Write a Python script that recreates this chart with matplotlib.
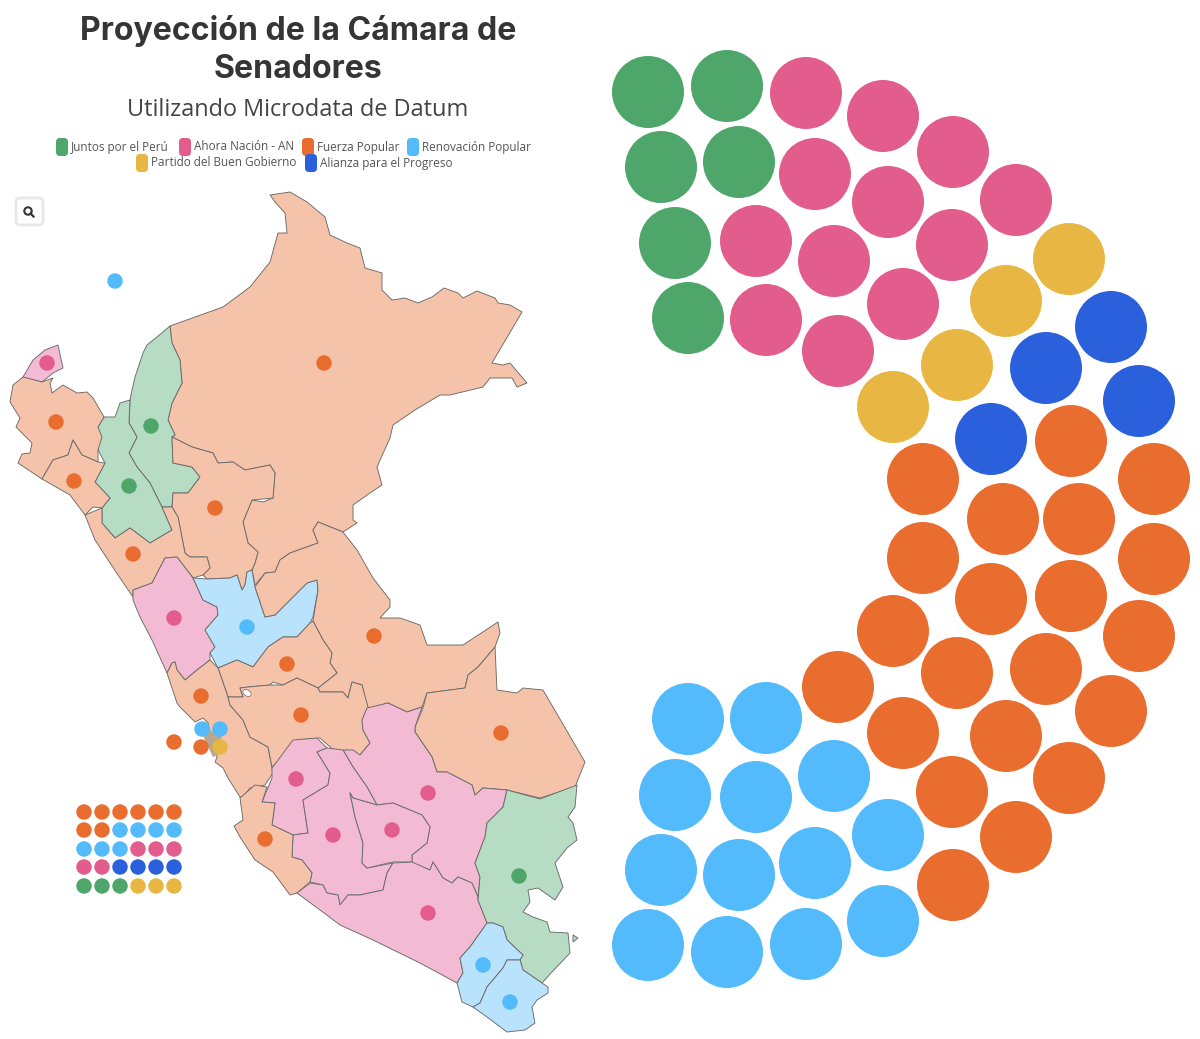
import matplotlib
matplotlib.use("Agg")
import matplotlib.pyplot as plt
from matplotlib.patches import Circle, Ellipse, Polygon, FancyBboxPatch

GREEN = "#4FA66B"
PINK = "#E25C8C"
ORANGE = "#E96D2F"
SKY = "#53BBFB"
YELLOW = "#E8B743"
ROYAL = "#2B60DC"

# lighter fill of each party on the map
TINT = {GREEN: "#B6DCC3", PINK: "#F2BAD3", ORANGE: "#F5C3A9", SKY: "#B9E2FD"}

title_lines = ["Proyección de la Cámara de", "Senadores"]
subtitle = "Utilizando Microdata de Datum"

legend_labels = ["Juntos por el Perú", "Ahora Nación - AN", "Fuerza Popular", "Renovación Popular",
                 "Partido del Buen Gobierno", "Alianza para el Progreso"]
legend_colors = [GREEN, PINK, ORANGE, SKY, YELLOW, ROYAL]
legend_swatch_x = [62, 185, 308, 413, 142, 311]
legend_row_y = [147, 147, 147, 147, 163, 163]

# seats of the hemicycle, per party
seats_green = [(648, 92), (727, 86), (661, 167), (739, 162), (675, 243), (688, 318)]
seats_pink = [(806, 93), (883, 116), (953, 152), (1016, 200), (815, 174), (888, 202),
              (952, 245), (756, 241), (834, 261), (903, 304), (766, 320), (838, 351)]
seats_yellow = [(1069, 259), (1006, 301), (957, 365), (893, 407)]
seats_royal = [(1111, 327), (1046, 368), (1139, 401), (991, 439)]
seats_orange = [(1071, 441), (1154, 479), (923, 479), (1003, 519), (1079, 519), (1154, 559),
                (923, 558), (991, 599), (1071, 596), (1139, 636), (893, 631), (957, 673),
                (1046, 669), (1111, 711), (838, 687), (903, 733), (1006, 736), (1069, 778),
                (952, 792), (1016, 837), (953, 885)]
seats_sky = [(688, 719), (766, 718), (675, 795), (756, 797), (834, 776), (888, 835), (815, 863),
             (739, 875), (661, 870), (648, 945), (727, 952), (806, 944), (883, 921)]

# department outlines
tumbes = [(23, 377), (33, 360), (45, 350), (58, 345), (63, 368), (53, 373), (42, 382), (25, 378)]
piura = [(23, 377), (13, 385), (10, 402), (20, 418), (16, 427), (32, 443), (30, 453), (22, 454), (18, 463),
         (42, 479), (53, 460), (68, 455), (73, 440), (82, 455), (98, 462), (98, 450), (102, 437), (98, 427),
         (104, 417), (93, 398), (87, 392), (77, 393), (63, 385), (52, 393), (50, 383), (53, 378), (42, 382)]
lambayeque = [(42, 479), (53, 460), (68, 455), (73, 440), (82, 455), (98, 462), (105, 463), (95, 482),
              (110, 498), (102, 508), (93, 507), (85, 515), (70, 495)]
cajamarca = [(104, 417), (115, 417), (120, 403), (130, 400), (129, 423), (137, 437), (129, 453), (137, 467),
             (150, 483), (162, 507), (172, 530), (150, 543), (130, 528), (115, 538), (102, 523), (102, 508),
             (110, 498), (95, 482), (105, 463), (98, 450), (98, 427)]
amazonas = [(170, 326), (157, 337), (147, 345), (143, 353), (135, 377), (132, 390), (130, 400), (129, 423),
            (137, 437), (129, 453), (137, 467), (150, 483), (162, 507), (172, 507), (173, 493), (188, 493),
            (200, 477), (192, 467), (173, 463), (172, 437), (175, 435), (168, 420), (172, 403), (182, 383),
            (180, 360), (172, 343)]
loreto = [(270, 195), (290, 192), (307, 202), (325, 217), (330, 235), (347, 243), (360, 248), (365, 268),
          (382, 273), (382, 290), (392, 300), (405, 298), (418, 303), (432, 297), (444, 288), (458, 293),
          (463, 298), (477, 291), (495, 298), (498, 303), (510, 305), (522, 312), (492, 363), (503, 365),
          (510, 363), (527, 383), (517, 387), (512, 378), (490, 378), (483, 387), (450, 395), (440, 395),
          (415, 410), (393, 425), (390, 438),
          (377, 467), (382, 485), (370, 493), (353, 505), (353, 520), (357, 523), (343, 532), (318, 522),
          (313, 530), (318, 543), (290, 553), (280, 560), (275, 572), (265, 573), (255, 585), (252, 570),
          (255, 563), (258, 552), (248, 543), (243, 522), (252, 500), (263, 502), (273, 498), (275, 473),
          (270, 465), (245, 470), (233, 462), (218, 463), (213, 453), (192, 447), (172, 437), (175, 435),
          (168, 420), (172, 403), (182, 383), (180, 360), (172, 343), (170, 326), (223, 307), (250, 287),
          (270, 262), (278, 233), (287, 233), (285, 213), (275, 202)]
san_martin = [(172, 437), (192, 447), (213, 453), (218, 463), (233, 462), (245, 470), (270, 465), (275, 473),
              (273, 498), (252, 500), (243, 522), (248, 543), (258, 552), (255, 563), (252, 570), (247, 572),
              (245, 585), (242, 590), (237, 575), (230, 578), (207, 579), (203, 575), (210, 568), (207, 557),
              (190, 557), (185, 553), (178, 517), (172, 507), (173, 493), (188, 493), (200, 477), (192, 467),
              (173, 463)]
la_libertad = [(85, 515), (95, 540), (118, 575), (133, 597), (133, 590), (152, 583), (165, 558), (177, 557),
               (193, 578), (203, 575), (210, 568), (207, 557), (190, 557), (185, 553), (178, 517), (172, 507),
               (162, 507), (172, 530), (150, 543), (130, 528), (115, 538), (102, 523), (102, 508)]
ancash = [(133, 590), (152, 583), (165, 558), (177, 557), (193, 578), (203, 600), (217, 607), (218, 615),
          (205, 630), (215, 647), (210, 653), (210, 660), (197, 670), (185, 680), (177, 670), (175, 662),
          (172, 663), (167, 673), (152, 640), (140, 617), (133, 600)]
huanuco = [(193, 578), (207, 579), (230, 578), (237, 575), (242, 590), (245, 585), (247, 572), (252, 570),
           (255, 587), (265, 617), (275, 615), (290, 600), (307, 583), (317, 580), (318, 590), (313, 617),
           (310, 623), (297, 637), (283, 637), (268, 647), (253, 667), (237, 660), (218, 668), (210, 653),
           (215, 647), (205, 630), (218, 615), (217, 607), (203, 600)]
lima = [(167, 673), (177, 703), (180, 707), (195, 722), (203, 718), (208, 723), (212, 740), (217, 757),
        (215, 762), (223, 768), (228, 778), (240, 797), (243, 797), (250, 788), (265, 785), (273, 773),
        (268, 747), (250, 737), (243, 720), (230, 705), (228, 697), (218, 668), (210, 660), (197, 670),
        (185, 680), (177, 670), (175, 662), (172, 663)]
lima_city = [(203, 735), (208, 727), (212, 732), (218, 727), (222, 733), (218, 755), (213, 757), (205, 740)]
pasco = [(218, 668), (237, 660), (253, 667), (268, 647), (283, 637), (297, 637), (310, 623), (313, 621),
         (323, 640), (332, 653), (330, 663), (337, 673), (318, 688), (297, 678), (283, 685), (273, 682),
         (270, 685), (248, 687), (240, 688), (243, 697), (228, 697)]
junin = [(228, 697), (243, 697), (240, 688), (248, 687), (270, 685), (283, 685), (297, 678), (318, 688),
         (320, 692), (343, 692), (348, 698), (352, 682), (362, 685), (368, 707), (362, 720), (363, 730),
         (370, 743), (360, 755), (347, 750), (337, 753), (320, 738), (297, 740), (293, 748), (272, 767),
         (268, 747), (250, 737), (243, 720), (230, 705)]
ucayali = [(357, 550), (373, 578), (390, 600), (390, 607), (380, 618), (400, 618), (420, 625), (427, 645),
           (463, 645), (498, 622), (500, 633), (495, 647), (478, 667), (468, 675), (465, 688), (427, 693),
           (422, 707), (407, 712), (388, 703), (370, 708), (367, 707), (362, 685), (352, 682), (348, 698),
           (343, 692), (320, 692), (318, 688), (337, 673), (330, 663), (332, 653), (323, 640), (313, 621),
           (318, 590), (317, 580), (307, 583), (290, 600), (275, 615), (265, 617), (255, 587), (265, 573),
           (275, 572), (280, 560), (290, 553), (318, 543), (313, 530), (318, 522), (343, 532)]
madre_de_dios = [(427, 693), (465, 688), (468, 675), (478, 667), (495, 647), (497, 690), (517, 693), (523, 688),
                 (543, 690), (585, 762), (575, 787), (540, 798), (507, 790), (483, 788), (475, 795), (472, 785),
                 (447, 772), (437, 772), (432, 757), (415, 732), (415, 727), (423, 708)]
cusco = [(367, 708), (388, 703), (407, 712), (422, 707), (415, 727), (415, 732), (432, 757), (437, 772),
         (447, 772), (472, 785), (475, 795), (483, 788), (507, 790), (503, 807), (487, 823), (485, 837),
         (475, 863), (480, 877), (478, 897), (472, 883), (458, 877), (452, 883), (443, 878), (433, 862),
         (430, 870), (412, 863), (412, 855), (427, 843), (430, 827), (422, 815), (393, 803), (377, 805),
         (367, 787), (353, 767), (343, 750), (353, 750), (360, 755), (370, 743), (363, 730), (362, 720)]
apurimac = [(350, 793), (353, 798), (377, 805), (393, 803), (422, 815), (430, 827), (427, 843), (412, 855),
            (412, 862), (393, 862), (367, 868), (362, 863), (363, 843), (355, 817)]
ayacucho = [(317, 752), (327, 748), (343, 750), (353, 767), (367, 787), (377, 805), (353, 798), (350, 793),
            (355, 817), (363, 843), (362, 863), (367, 868), (393, 863), (387, 873), (383, 890), (360, 895),
            (348, 895), (340, 905), (338, 895), (327, 893), (323, 885), (310, 882), (312, 873), (302, 860),
            (292, 857), (293, 835), (308, 833), (303, 800), (328, 785), (330, 773)]
huancavelica = [(262, 802), (272, 778), (272, 768), (293, 740), (317, 738), (327, 748), (317, 752), (330, 773),
                (328, 785), (303, 800), (308, 833), (293, 835), (272, 825), (275, 803)]
ica = [(240, 798), (255, 785), (267, 787), (262, 802), (275, 803), (272, 825), (293, 835), (292, 857),
       (302, 860), (312, 873), (310, 882), (297, 893), (290, 895), (273, 872), (255, 860), (240, 837),
       (234, 826), (243, 820)]
arequipa = [(297, 893), (310, 883), (323, 885), (327, 893), (338, 895), (340, 905), (348, 895), (360, 895),
            (383, 890), (387, 873), (393, 863), (412, 862), (430, 870), (433, 862), (443, 878), (452, 883),
            (458, 877), (472, 883), (478, 897), (478, 900), (487, 923), (470, 947), (460, 958), (463, 973),
            (457, 983), (420, 963), (373, 940), (340, 925), (320, 910)]
puno = [(507, 790), (540, 799), (577, 785), (575, 807), (568, 817), (573, 823), (577, 840), (567, 848),
        (555, 863), (563, 887), (555, 900), (538, 888), (528, 890), (530, 902), (523, 912), (533, 917),
        (547, 922), (550, 932), (568, 933), (570, 953), (552, 972), (542, 983), (523, 970), (520, 960),
        (523, 955), (507, 940), (503, 927), (493, 923), (487, 923), (478, 900), (480, 877), (475, 863),
        (485, 837), (487, 823), (503, 807)]
puno_island = [(573, 935), (578, 938), (573, 942)]
moquegua = [(487, 923), (493, 923), (503, 927), (507, 940), (523, 955), (520, 960), (507, 960), (503, 968),
            (487, 987), (480, 1003), (473, 1007), (462, 1002), (457, 983), (463, 973), (460, 958), (470, 947)]
tacna = [(507, 960), (520, 960), (523, 970), (542, 983), (548, 987), (548, 993), (537, 1000), (532, 1007),
         (535, 1023), (525, 1030), (507, 1032), (487, 1017), (473, 1007), (480, 1003), (487, 987), (503, 968)]

departments = [(loreto, ORANGE), (amazonas, GREEN), (cajamarca, GREEN), (tumbes, PINK), (piura, ORANGE),
               (lambayeque, ORANGE), (san_martin, ORANGE), (la_libertad, ORANGE), (ancash, PINK),
               (huanuco, SKY), (ucayali, ORANGE), (pasco, ORANGE), (lima, ORANGE), (junin, ORANGE),
               (madre_de_dios, ORANGE), (cusco, PINK), (huancavelica, PINK), (ayacucho, PINK),
               (apurimac, PINK), (ica, ORANGE), (arequipa, PINK), (puno, GREEN), (puno_island, GREEN),
               (moquegua, SKY), (tacna, SKY)]

# winner marker of each constituency
dot_x = [115, 47, 324, 56, 151, 74, 129, 215, 133, 174, 247, 374, 287, 201, 301,
         202, 220, 174, 201, 220, 501, 296, 428, 265, 392, 333, 519, 428, 483, 510]
dot_y = [281, 363, 363, 422, 426, 481, 486, 508, 554, 618, 627, 636, 664, 696, 715,
         729, 729, 742, 747, 747, 733, 779, 793, 839, 830, 835, 876, 913, 965, 1002]
dot_colors = [SKY, PINK, ORANGE, ORANGE, GREEN, ORANGE, GREEN, ORANGE, ORANGE, PINK, SKY, ORANGE, ORANGE, ORANGE, ORANGE,
              SKY, SKY, ORANGE, ORANGE, YELLOW, ORANGE, PINK, PINK, ORANGE, PINK, PINK, GREEN, PINK, SKY, SKY]

# national list, small grid at bottom left
grid_x = [84, 102, 120, 138, 156, 174]
grid_y = [812, 830, 849, 867, 886]
grid_colors = [[ORANGE] * 6,
               [ORANGE, ORANGE, SKY, SKY, SKY, SKY],
               [SKY, SKY, SKY, PINK, PINK, PINK],
               [PINK, PINK, ROYAL, ROYAL, ROYAL, ROYAL],
               [GREEN, GREEN, GREEN, YELLOW, YELLOW, YELLOW]]


def draw_seats(ax, seats, color):
    for x, y in seats:
        ax.add_patch(Circle((x, y), 36, facecolor=color, edgecolor="none", zorder=3))


fig = plt.figure(figsize=(12, 10.39), dpi=100)
ax = fig.add_axes([0, 0, 1, 1])
ax.set_xlim(0, 1200)
ax.set_ylim(1039, 0)
ax.axis("off")

ax.text(298, 31, title_lines[0], ha="center", va="center", fontsize=23.1, fontweight="bold",
        family="Inter", color="#353535")
ax.text(298, 69, title_lines[1], ha="center", va="center", fontsize=23.1, fontweight="bold",
        family="Inter", color="#353535")
ax.text(298, 110, subtitle, ha="center", va="center", fontsize=16.9, family="Open Sans", color="#444444")

for label, color, x, y in zip(legend_labels, legend_colors, legend_swatch_x, legend_row_y):
    ax.add_patch(FancyBboxPatch((x - 2, y - 5), 4, 10, boxstyle="round,pad=4,rounding_size=4",
                                facecolor=color, edgecolor="none"))
    ax.text(x + 9, y, label, ha="left", va="center", fontsize=8.5, family="Open Sans", color="#555555")

# search button
ax.add_patch(FancyBboxPatch((18, 200), 23, 23, boxstyle="round,pad=2,rounding_size=4",
                            facecolor="white", edgecolor="#E8E8E8", linewidth=2))
ax.add_patch(Circle((28, 211), 3.7, facecolor="none", edgecolor="#333333", linewidth=1.5))
ax.plot([30.5, 33.5], [213.5, 216.5], color="#333333", linewidth=1.6)

for outline, party in departments:
    ax.add_patch(Polygon(outline, closed=True, facecolor=TINT[party], edgecolor="#6A6A6A",
                         linewidth=0.65, joinstyle="round", zorder=1))
ax.add_patch(Polygon(lima_city, closed=True, facecolor="#B7A78F", edgecolor="none", zorder=1.5))
ax.add_patch(Ellipse((247, 693), 9, 6, angle=30, facecolor="white", edgecolor="#6A6A6A", linewidth=0.5, zorder=1.5))

ax.scatter(dot_x, dot_y, s=124, c=dot_colors, linewidths=0, zorder=2)

for row, y in zip(grid_colors, grid_y):
    ax.scatter(grid_x, [y] * len(grid_x), s=124, c=row, linewidths=0, zorder=2)

draw_seats(ax, seats_green, GREEN)
draw_seats(ax, seats_pink, PINK)
draw_seats(ax, seats_yellow, YELLOW)
draw_seats(ax, seats_royal, ROYAL)
draw_seats(ax, seats_orange, ORANGE)
draw_seats(ax, seats_sky, SKY)

fig.savefig("out.png", dpi=100)
